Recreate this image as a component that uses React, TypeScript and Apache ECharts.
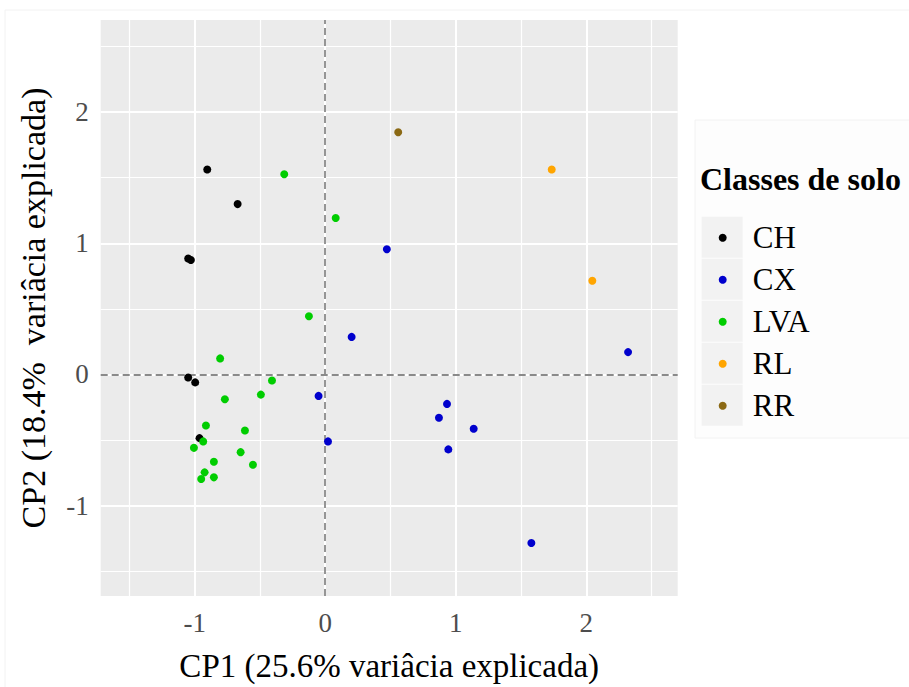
import React, { useEffect, useRef } from "react";
import * as echarts from "echarts";

// ---- data ----
const classes = ["CH", "CX", "LVA", "RL", "RR"];
const colors = ["#000000", "#0000CD", "#00CD00", "#FFA500", "#8B6914"];

const chX = [-0.904, -0.671, -1.05, -1.029, -1.05, -0.996, -0.963];
const chY = [1.563, 1.299, 0.884, 0.872, -0.023, -0.061, -0.486];

const cxX = [0.472, 0.202, -0.051, 0.021, 2.32, 0.933, 0.871, 1.137, 0.943, 1.579];
const cxY = [0.955, 0.286, -0.164, -0.511, 0.17, -0.225, -0.331, -0.415, -0.572, -1.286];

const lvaX = [-0.314, 0.08, -0.125, -0.805, -0.408, -0.493, -0.769, -0.914, -0.615, -0.935, -1.006, -0.648, -0.853, -0.554, -0.924, -0.853, -0.95];
const lvaY = [1.527, 1.193, 0.444, 0.122, -0.046, -0.154, -0.19, -0.39, -0.428, -0.511, -0.56, -0.593, -0.666, -0.689, -0.747, -0.785, -0.798];

const rlX = [1.735, 2.046];
const rlY = [1.563, 0.714];

const rrX = [0.559];
const rrY = [1.847];

const xTicks = [-1, 0, 1, 2];
const yTicks = [-1, 0, 1, 2];
const xMinor = [-1.5, -0.5, 0.5, 1.5, 2.5];
const yMinor = [-1.5, -0.5, 0.5, 1.5, 2.5];

const xLimits = [-1.72, 2.7];
const yLimits = [-1.69, 2.703];

const xTitle = "CP1 (25.6% variâcia explicada)";
const yTitle = "CP2 (18.4%  variâcia explicada)";
const legendTitle = "Classes de solo";

const FONT = "Liberation Serif";

function pairs(xs: number[], ys: number[]) {
  return xs.map((x, i) => [x, ys[i]]);
}

export default function App() {
  const ref = useRef<HTMLDivElement>(null);

  useEffect(() => {
    if (!ref.current) return;
    const chart = echarts.init(ref.current, undefined, { renderer: "svg" });

    const seriesData = [
      pairs(chX, chY),
      pairs(cxX, cxY),
      pairs(lvaX, lvaY),
      pairs(rlX, rlY),
      pairs(rrX, rrY),
    ];

    const gridLines: any[] = [];
    xMinor.forEach((v) =>
      gridLines.push({ xAxis: v, lineStyle: { color: "#ffffff", width: 1.2, type: "solid" } })
    );
    yMinor.forEach((v) =>
      gridLines.push({ yAxis: v, lineStyle: { color: "#ffffff", width: 1.2, type: "solid" } })
    );
    xTicks.forEach((v) =>
      gridLines.push({ xAxis: v, lineStyle: { color: "#ffffff", width: 2, type: "solid" } })
    );
    yTicks.forEach((v) =>
      gridLines.push({ yAxis: v, lineStyle: { color: "#ffffff", width: 2, type: "solid" } })
    );
    gridLines.push({ xAxis: 0, lineStyle: { color: "#8a8a8a", width: 1.8, type: [7, 4] } });
    gridLines.push({ yAxis: 0, lineStyle: { color: "#8a8a8a", width: 1.8, type: [7, 4] } });

    const keyRects = classes.map((_, i) => ({
      type: "rect",
      shape: { x: 701.7, y: 216.7 + i * 42, width: 41, height: 41 },
      style: { fill: "#F2F2F2" },
      z: -1,
    }));

    const option: any = {
      animation: false,
      backgroundColor: "#ffffff",
      title: {
        text: legendTitle,
        left: 700,
        top: 163,
        padding: 0,
        textStyle: { fontFamily: FONT, fontWeight: "bold", fontSize: 32, color: "#000" },
      },
      grid: {
        left: 100.7,
        top: 20,
        right: 909 - 677.7,
        bottom: 687 - 598.3,
        show: true,
        backgroundColor: "#EBEBEB",
        borderWidth: 0,
        containLabel: false,
      },
      graphic: [
        {
          type: "rect",
          shape: { x: 5, y: 10, width: 910, height: 690 },
          style: { fill: "none", stroke: "#F2F2F2", lineWidth: 1 },
          z: -2,
        },
        {
          type: "rect",
          shape: { x: 695, y: 120, width: 220, height: 318 },
          style: { fill: "#FDFDFD", stroke: "#F2F2F2", lineWidth: 1 },
          z: -2,
        },
        ...keyRects,
      ],
      legend: {
        orient: "vertical",
        left: 718.7,
        top: 216.7,
        padding: 0,
        itemGap: 0,
        itemWidth: 8,
        itemHeight: 8,
        icon: "circle",
        data: classes,
        textStyle: {
          fontFamily: FONT,
          fontSize: 31,
          color: "#000",
          lineHeight: 42,
          padding: [0, 0, 0, 21],
        },
      },
      xAxis: {
        type: "value",
        min: xLimits[0],
        max: xLimits[1],
        name: xTitle,
        nameLocation: "middle",
        nameGap: 53,
        nameTextStyle: { fontFamily: FONT, fontSize: 33, color: "#000" },
        axisLine: { show: false },
        axisTick: {
          show: true,
          length: 5,
          customValues: xTicks,
          lineStyle: { color: "#333333", width: 1.5 },
        },
        axisLabel: {
          customValues: xTicks,
          margin: 13,
          fontFamily: FONT,
          fontSize: 27,
          color: "#4D4D4D",
        },
        splitLine: { show: false },
      },
      yAxis: {
        type: "value",
        min: yLimits[0],
        max: yLimits[1],
        name: yTitle,
        nameLocation: "middle",
        nameGap: 50,
        nameTextStyle: { fontFamily: FONT, fontSize: 34, color: "#000" },
        axisLine: { show: false },
        axisTick: {
          show: true,
          length: 5,
          customValues: yTicks,
          lineStyle: { color: "#333333", width: 1.5 },
        },
        axisLabel: {
          customValues: yTicks,
          margin: 12,
          fontFamily: FONT,
          fontSize: 27,
          color: "#4D4D4D",
        },
        splitLine: { show: false },
      },
      series: [
        {
          type: "scatter",
          name: "__grid",
          data: [],
          z: 1,
          silent: true,
          markLine: {
            silent: true,
            z: 1,
            zlevel: 0,
            symbol: ["none", "none"],
            label: { show: false },
            emphasis: { disabled: true },
            animation: false,
            data: gridLines,
          },
        },
        ...classes.map((c, i) => ({
          type: "scatter",
          name: c,
          data: seriesData[i],
          symbol: "circle",
          symbolSize: 8,
          itemStyle: { color: colors[i], opacity: 1 },
          z: 4,
        })),
      ],
    };

    chart.setOption(option);
    return () => chart.dispose();
  }, []);

  return (
    <div
      ref={ref}
      style={{ position: "fixed", left: 0, top: 0, width: 909, height: 687 }}
    />
  );
}
